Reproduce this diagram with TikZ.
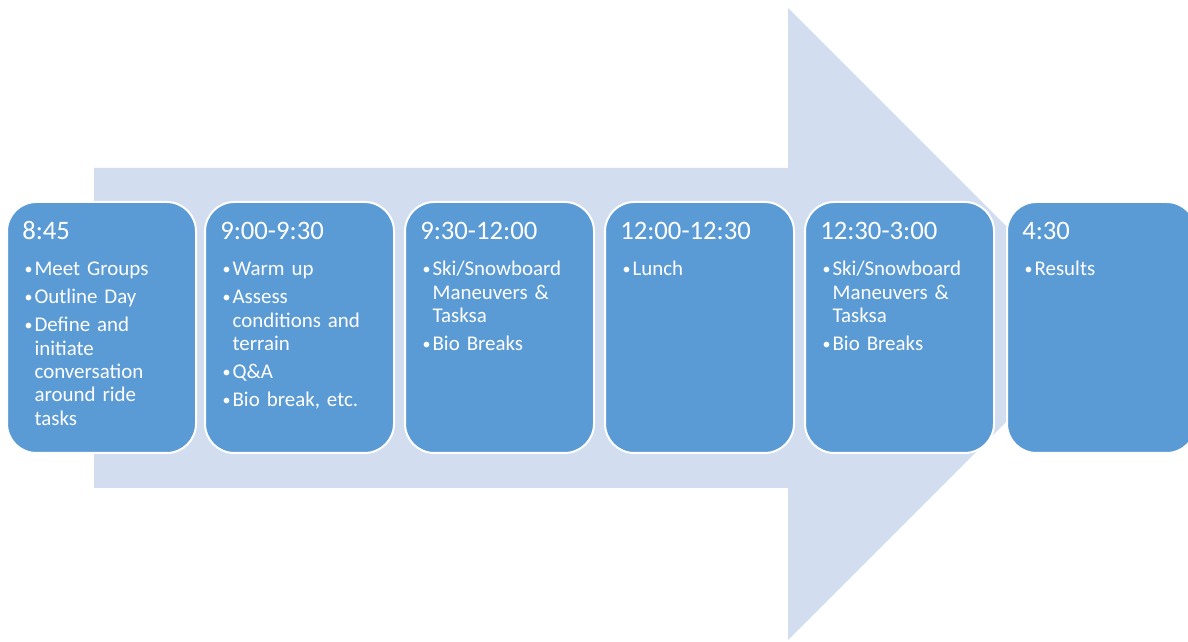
\documentclass[tikz,border=0pt]{standalone}
\usepackage{fontspec}
\setmainfont{Carlito}
\definecolor{lightblue}{RGB}{210,222,239}
\definecolor{boxblue}{RGB}{91,155,213}

\newcommand{\stagebullet}{\hspace{1pt}\raisebox{0.9pt}{\fontsize{12}{12}\selectfont\textbullet}}
\newcommand{\stageitem}[1]{\par\noindent\hangindent=8.5pt\hangafter=1\makebox[8.5pt][l]{\stagebullet}\strut#1}

\begin{document}
\begin{tikzpicture}[x=0.75pt,y=0.75pt,
  stagebox/.style={fill=boxblue,draw=white,line width=1.5pt,rounded corners=22pt,
    minimum width=141.75pt,minimum height=188.25pt,inner sep=0pt,outer sep=0pt},
  stagetitle/.style={anchor=base west,inner sep=0pt,text=white,
    font=\fontsize{20}{24}\selectfont},
  stagelist/.style={anchor=north west,inner sep=0pt,text=white,text width=125pt,
    align=left,font=\fontsize{15.7}{17.5}\selectfont\setlength{\parskip}{3.5pt}}]

\useasboundingbox (0,0) rectangle (1188,642);
\clip (0,0) rectangle (1188,642);

% big arrow in the back
\fill [lightblue] (94,474) -- (788,474) -- (788,634) -- (1104,318) -- (788,2) -- (788,154) -- (94,154) -- cycle;

% boxes
\node [stagebox] (s1) at (101.5,314.5) {};
\node [stagebox] (s2) at (299.5,314.5) {};
\node [stagebox] (s3) at (499.5,314.5) {};
\node [stagebox] (s4) at (699.5,314.5) {};
\node [stagebox] (s5) at (899.5,314.5) {};
\node [stagebox] (s6) at (1101.5,314.5) {};

% times
\node [stagetitle] (t1) at ([shift={(15,-38)}]s1.north west) {8:45};
\node [stagetitle] (t2) at ([shift={(15,-38)}]s2.north west) {9:00-9:30};
\node [stagetitle] (t3) at ([shift={(15,-38)}]s3.north west) {9:30-12:00};
\node [stagetitle] (t4) at ([shift={(15,-38)}]s4.north west) {12:00-12:30};
\node [stagetitle] (t5) at ([shift={(15,-38)}]s5.north west) {12:30-3:00};
\node [stagetitle] (t6) at ([shift={(15,-38)}]s6.north west) {4:30};

% bullet lists
\node [stagelist] (l1) at ([shift={(16,-45.7)}]s1.north west) {%
  \stageitem{Meet Groups}
  \stageitem{Outline Day}
  \stageitem{Define and\newline initiate\newline conversation\newline around ride\newline tasks}\par};
\node [stagelist] (l2) at ([shift={(16,-45.7)}]s2.north west) {%
  \stageitem{Warm up}
  \stageitem{Assess\newline conditions and\newline terrain}
  \stageitem{Q\&A}
  \stageitem{Bio break, etc.}\par};
\node [stagelist] (l3) at ([shift={(16,-45.7)}]s3.north west) {%
  \stageitem{Ski/Snowboard\newline Maneuvers \&\newline Tasksa}
  \stageitem{Bio Breaks}\par};
\node [stagelist] (l4) at ([shift={(16,-45.7)}]s4.north west) {%
  \stageitem{Lunch}\par};
\node [stagelist] (l5) at ([shift={(16,-45.7)}]s5.north west) {%
  \stageitem{Ski/Snowboard\newline Maneuvers \&\newline Tasksa}
  \stageitem{Bio Breaks}\par};
\node [stagelist] (l6) at ([shift={(16,-45.7)}]s6.north west) {%
  \stageitem{Results}\par};
\end{tikzpicture}
\end{document}
